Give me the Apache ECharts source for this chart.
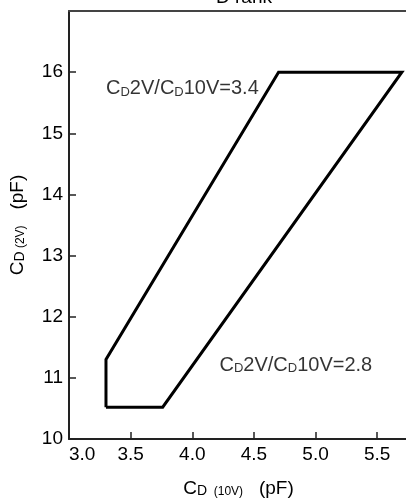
<!DOCTYPE html>
<html>
<head>
<meta charset="utf-8">
<script src="https://cdn.jsdelivr.net/npm/echarts@6/dist/echarts.min.js"></script>
<style>html,body{margin:0;padding:0;background:#fff}#c{width:406px;height:500px}</style>
</head>
<body>
<div id="c"></div>
<script>
// Region boundary polygon: C_D(10V) (pF) vs C_D(2V) (pF)
const regionX = [3.3, 3.3, 4.7, 5.7, 3.76, 3.3];
const regionY = [10.52, 11.3, 16.0, 16.0, 10.52, 10.52];
// Annotation anchors (data coords)
const noteX = [3.92, 4.84];
const noteY = [15.73, 11.21];
const noteRatio = ['3.4', '2.8'];
const xTicks = [3.0, 3.5, 4.0, 4.5, 5.0, 5.5];
const yTicks = [10, 11, 12, 13, 14, 15, 16];
const titleText = 'D rank';

const FONT = '"Liberation Sans", Arial, sans-serif';
const chart = echarts.init(document.getElementById('c'), null, {renderer: 'canvas'});
const poly = regionX.map((x, i) => [x, regionY[i]]);
const notes = noteX.map((x, i) => ({value: [x, noteY[i]], ratio: noteRatio[i]}));
const richBase = {
  a: {fontSize: 20, color: '#000', fontFamily: FONT},
  b: {fontSize: 13, color: '#000', fontFamily: FONT, verticalAlign: 'bottom'}
};
const nameRich = {
  a: {fontSize: 19, color: '#000', fontFamily: FONT},
  b: {fontSize: 14, color: '#000', fontFamily: FONT, verticalAlign: 'bottom'},
  c: {fontSize: 12, color: '#000', fontFamily: FONT, verticalAlign: 'bottom'}
};
chart.setOption({
  animation: false,
  backgroundColor: '#fff',
  title: {
    text: titleText, left: 239, top: -17, textAlign: 'center',
    textStyle: {fontSize: 19, fontWeight: 'normal', color: '#000', fontFamily: FONT}
  },
  grid: {left: 69, top: 11, right: -2, bottom: 61, containLabel: false, outerBoundsMode: 'none'},
  xAxis: [{
    type: 'value', min: 3.0, max: 5.75, interval: 0.5,
    axisLine: {show: true, lineStyle: {color: '#222', width: 2}},
    axisTick: {show: true, inside: true, length: 7, lineStyle: {color: '#222', width: 1.5}},
    axisLabel: {
      fontSize: 19, color: '#000', fontFamily: FONT, margin: 6, showMaxLabel: false,
      alignMinLabel: 'left',
      formatter: v => xTicks.indexOf(v) >= 0 ? v.toFixed(1) : ''
    },
    splitLine: {show: false},
    name: '{a|C}{b|D}{c|  (10V)}{a|   (pF)}',
    nameLocation: 'middle', nameGap: 40,
    nameTextStyle: {rich: nameRich}
  }, {
    type: 'value', position: 'top', min: 3.0, max: 5.75, interval: 0.5,
    axisLine: {show: true, lineStyle: {color: '#444', width: 2}},
    axisTick: {show: false}, axisLabel: {show: false}, splitLine: {show: false}
  }],
  yAxis: {
    type: 'value', min: 10, max: 17, interval: 1,
    axisLine: {show: true, lineStyle: {color: '#222', width: 2}},
    axisTick: {show: true, inside: true, length: 7, lineStyle: {color: '#222', width: 1.5}},
    axisLabel: {
      fontSize: 19, color: '#000', fontFamily: FONT, margin: 6, showMaxLabel: false,
      formatter: v => yTicks.indexOf(v) >= 0 ? String(v) : ''
    },
    splitLine: {show: false},
    name: '{a|C}{b|D}{c| (2V)}{a|   (pF)}',
    nameLocation: 'middle', nameGap: 42, nameRotate: 90,
    nameTextStyle: {rich: nameRich}
  },
  series: [{
    type: 'line', data: poly, symbol: 'none', smooth: false,
    lineStyle: {color: '#000', width: 3, join: 'miter'},
    silent: true
  }, {
    type: 'scatter', data: notes, symbolSize: 0, silent: true,
    label: {
      show: true, position: 'inside',
      formatter: p => '{a|C}{b|D}{a|2V/C}{b|D}{a|10V=' + p.data.ratio + '}',
      rich: richBase
    }
  }]
});
</script>
</body>
</html>
